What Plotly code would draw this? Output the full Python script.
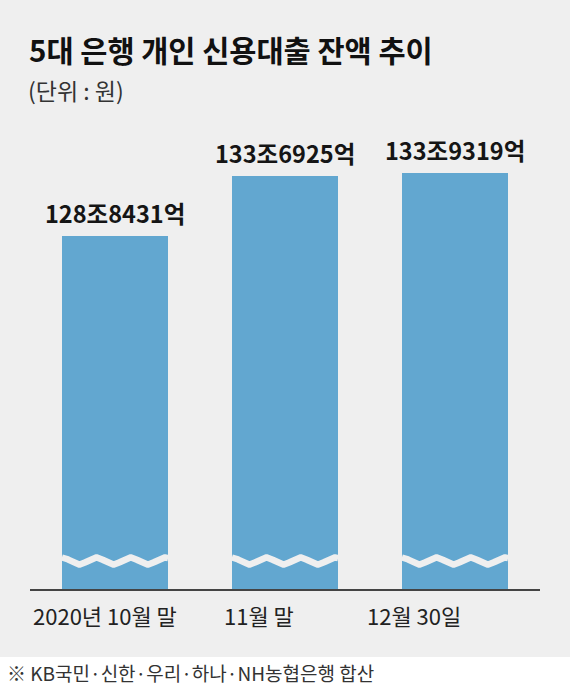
import numpy as np
import plotly.graph_objects as go

# ---- data ----
categories = ["2020년 10월 말", "11월 말", "12월 30일"]
values = [128.8431, 133.6925, 133.9319]          # 조 원
value_labels = ["128조8431억", "133조6925억", "133조9319억"]
title_text = "5대 은행 개인 신용대출 잔액 추이"
unit_text = "(단위 : 원)"
note_text = "※ KB국민·신한·우리·하나·NH농협은행 합산"

# ---- layout geometry ----
W, H = 570, 691
ML, MR, MT, MB = 30, 30, 140, 102
PW, PH = W - ML - MR, H - MT - MB
Y0, Y1 = 100.3, 136.6
BAR_W = 0.625

def px_x(px):
    return (px - ML) / PW

def px_y(py):
    return (H - MB - py) / PH

FONT = "Noto Sans CJK KR"
BG = "#efefef"
BAR = "#62a7d0"

xs = list(range(len(categories)))
fig = go.Figure()
fig.add_trace(go.Bar(x=xs, y=values, width=BAR_W, marker=dict(color=BAR, line=dict(width=0)),
                     hoverinfo="skip", showlegend=False))

# axis-break wave decoration across each bar
unit_px = PH / (Y1 - Y0)
wave_level = Y0 + 28 / unit_px
amp = 3.5 / unit_px
t = np.linspace(0, 1, 150)
for x in xs:
    fig.add_trace(go.Scatter(x=x - BAR_W / 2 + t * BAR_W,
                             y=wave_level + amp * np.cos(2 * np.pi * 3.1 * t),
                             mode="lines", line=dict(color=BG, width=6.5),
                             hoverinfo="skip", showlegend=False))

annotations = []
# value labels above bars
for x, v, lab in zip(xs, values, value_labels):
    annotations.append(dict(x=x, y=v, xref="x", yref="y", text=f"<b>{lab}</b>", showarrow=False,
                            yanchor="middle", yshift=23,
                            font=dict(family=FONT, size=23.5, color="#151515")))
# category labels
xshifts = [-10, -26, -41]
for x, c, s in zip(xs, categories, xshifts):
    annotations.append(dict(x=x, y=0, xref="x", yref="paper", text=c, showarrow=False,
                            yanchor="middle", yshift=-26, xshift=s,
                            font=dict(family=FONT, size=22, color="#222222")))
annotations.append(dict(x=px_x(27), y=px_y(48.5), xref="paper", yref="paper",
                        text=f"<b>{title_text}</b>", showarrow=False, xanchor="left", yanchor="middle",
                        font=dict(family=FONT, size=29.5, color="#111111")))
annotations.append(dict(x=px_x(26), y=px_y(90.5), xref="paper", yref="paper",
                        text=unit_text, showarrow=False, xanchor="left", yanchor="middle",
                        font=dict(family=FONT, size=23, color="#333333")))
annotations.append(dict(x=px_x(5), y=px_y(672), xref="paper", yref="paper",
                        text=note_text, showarrow=False, xanchor="left", yanchor="middle",
                        font=dict(family=FONT, size=19, color="#333333")))

fig.update_layout(
    width=W, height=H,
    margin=dict(l=ML, r=MR, t=MT, b=MB),
    paper_bgcolor="white", plot_bgcolor=BG,
    shapes=[dict(type="rect", xref="paper", yref="paper",
                 x0=px_x(0), x1=px_x(W), y0=px_y(657), y1=px_y(0),
                 fillcolor=BG, line=dict(width=0), layer="below")],
    annotations=annotations,
    xaxis=dict(range=[-0.5, 2.5], showgrid=False, zeroline=False, showticklabels=False,
               showline=True, linecolor="#444444", linewidth=1.5, ticks="", fixedrange=True),
    yaxis=dict(range=[Y0, Y1], showgrid=False, zeroline=False, showticklabels=False,
               showline=False, ticks="", fixedrange=True),
    bargap=0,
)

fig.write_html("out.html", config={"displayModeBar": False},
               post_script="document.body.style.margin='0';document.body.style.overflow='hidden';")
